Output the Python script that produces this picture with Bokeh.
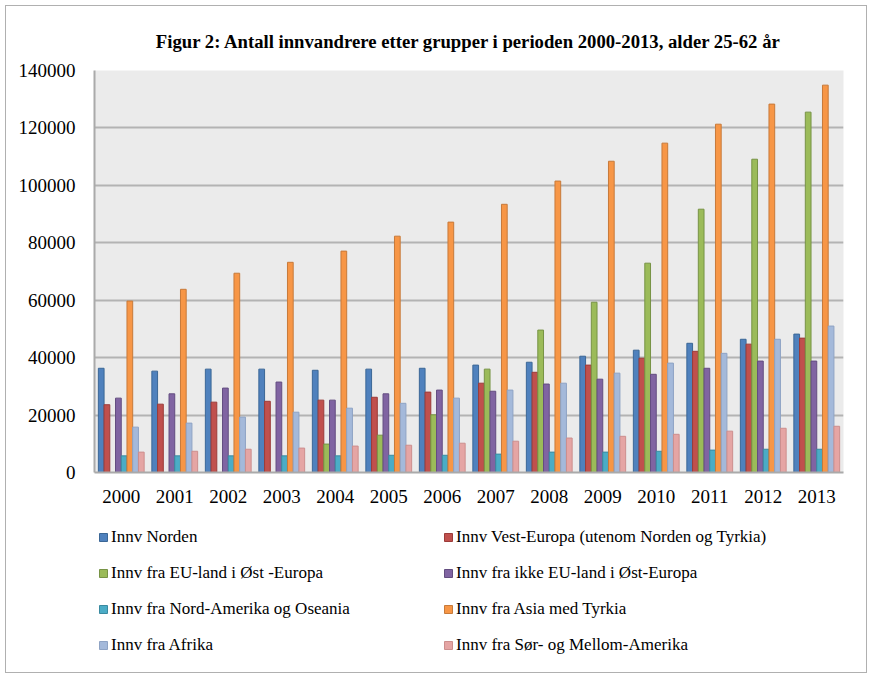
from bokeh.plotting import figure
from bokeh.models import FactorRange, Range1d, FixedTicker, NumeralTickFormatter, Legend, LegendItem
from bokeh.layouts import column
from bokeh.transform import dodge
from bokeh.embed import file_html
from bokeh.resources import INLINE

years = ["2000", "2001", "2002", "2003", "2004", "2005", "2006", "2007",
         "2008", "2009", "2010", "2011", "2012", "2013"]

norden = [36300, 35300, 36000, 36000, 35600, 36000, 36300, 37400, 38400, 40500, 42600, 45000, 46400, 48200]
vest_europa = [23600, 23800, 24500, 24800, 25200, 26200, 28000, 31100, 34900, 37400, 39800, 42200, 44700, 46800]
eu_ost = [0, 0, 0, 0, 9900, 13000, 20100, 36000, 49600, 59300, 72900, 91700, 109100, 125500]
ikke_eu_ost = [25900, 27400, 29400, 31500, 25200, 27400, 28700, 28300, 30800, 32500, 34200, 36300, 38800, 38800]
nord_amerika = [5800, 5800, 5800, 5800, 5800, 6000, 6000, 6400, 7100, 7100, 7400, 7800, 8100, 8100]
asia = [59700, 63800, 69400, 73200, 77100, 82300, 87200, 93400, 101500, 108400, 114700, 121300, 128300, 134900]
afrika = [15800, 17200, 19300, 21000, 22400, 24100, 25900, 28700, 31100, 34600, 38100, 41500, 46400, 51000]
sor_amerika = [7100, 7400, 8100, 8500, 9200, 9500, 10200, 10900, 12000, 12600, 13300, 14400, 15400, 16100]

series_names = [
    "Innv Norden",
    "Innv Vest-Europa (utenom Norden og Tyrkia)",
    "Innv fra EU-land i Øst -Europa",
    "Innv fra ikke EU-land i Øst-Europa",
    "Innv fra Nord-Amerika og Oseania",
    "Innv fra Asia med Tyrkia",
    "Innv fra Afrika",
    "Innv fra Sør- og Mellom-Amerika",
]
series_values = [norden, vest_europa, eu_ost, ikke_eu_ost, nord_amerika, asia, afrika, sor_amerika]
fill_colors = ["#4f81bd", "#c0504d", "#9bbb59", "#8064a2", "#4bacc6", "#f79646", "#a4b9da", "#e5a5a4"]
line_colors = ["#3b6796", "#9c3b39", "#779345", "#634d80", "#3a8aa0", "#c77a3a", "#8ea3c4", "#cc8e8d"]

y_ticks = [0, 20000, 40000, 60000, 80000, 100000, 120000, 140000]

data = {"year": years}
for i, vals in enumerate(series_values):
    data[f"s{i}"] = vals

FONT = "Liberation Serif"

p = figure(x_range=FactorRange(*years), y_range=Range1d(0, 140000),
           width=860, height=506, output_backend="svg", toolbar_location=None,
           min_border_left=88, min_border_right=23, min_border_top=64, min_border_bottom=40)

p.background_fill_color = "#ebebeb"
p.border_fill_color = "white"
p.outline_line_color = None

bar_w = 0.107
for i in range(8):
    off = (i - 3.5) * bar_w
    p.vbar(x=dodge("year", off, range=p.x_range), top=f"s{i}", width=bar_w,
           source=data, fill_color=fill_colors[i], line_color=line_colors[i], line_width=1)

# title
p.title.text = "Figur 2: Antall innvandrere etter grupper i perioden 2000-2013, alder 25-62 år"
p.title.text_font = FONT
p.title.text_font_size = "18.7px"
p.title.text_font_style = "bold"
p.title.align = "center"
p.title.text_color = "black"
p.title.standoff = 38

# axes
p.yaxis.ticker = FixedTicker(ticks=y_ticks)
p.yaxis.formatter = NumeralTickFormatter(format="0")
for ax in (p.xaxis[0], p.yaxis[0]):
    ax.major_tick_line_color = None
    ax.minor_tick_line_color = None
    ax.axis_line_color = "#aaaaaa"
    ax.axis_line_width = 2
    ax.major_label_text_font = FONT
    ax.major_label_text_font_size = "19px"
    ax.major_label_text_color = "black"
p.yaxis.major_label_standoff = 13
p.xaxis.major_label_standoff = 11
p.xgrid.grid_line_color = None
p.ygrid.grid_line_color = "#b3b3b3"
p.ygrid.grid_line_width = 2
p.ygrid.ticker = FixedTicker(ticks=y_ticks)

# legend in a separate, axis-free figure below the chart (frames are aligned in the column)
lf = figure(width=860, height=160, output_backend="svg", toolbar_location=None,
            min_border_left=0, min_border_right=0, min_border_top=0, min_border_bottom=0,
            x_range=Range1d(0, 1), y_range=Range1d(0, 1))
lf.axis.visible = False
lf.grid.visible = False
lf.outline_line_color = None
lf.background_fill_color = "white"
legend_renderers = []
for i in range(8):
    # a single off-screen swatch so that the legend has something to draw
    r = lf.vbar(x=[5], top=[0], width=0.1,
                fill_color=fill_colors[i], line_color=line_colors[i], line_width=1)
    legend_renderers.append(r)

order = [0, 2, 4, 6, 1, 3, 5, 7]  # column-major fill => row-major reading order
items = [LegendItem(label=series_names[i], renderers=[legend_renderers[i]], index=0) for i in order]
legend = Legend(items=items, ncols=2, location=(4, 17), margin=0, padding=0,
                glyph_width=10, glyph_height=10, label_height=20, spacing=16,
                label_standoff=3, label_width=316,
                label_text_font=FONT, label_text_font_size="17px", label_text_color="black",
                border_line_color=None, background_fill_alpha=0)
lf.add_layout(legend, "center")

layout = column(p, lf, spacing=0)
layout.styles = {"border": "1px solid #b0b0b0", "margin": "5px"}

open("out.html", "w").write(file_html(layout, INLINE))
